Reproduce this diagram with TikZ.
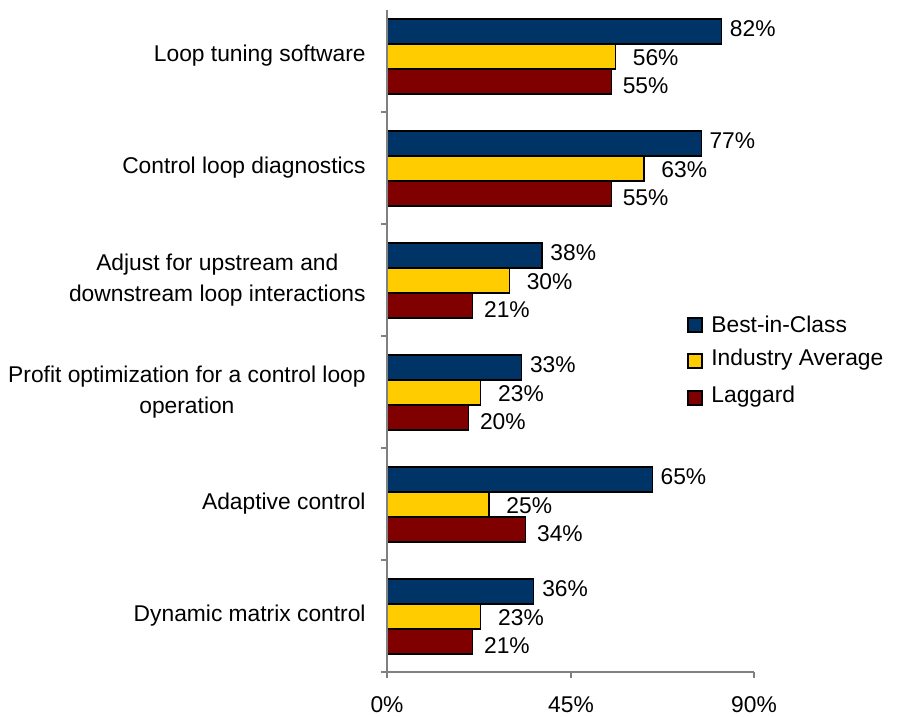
\documentclass[tikz,border=0pt]{standalone}
\usepackage{fontspec}
\setmainfont{Liberation Sans}
\usepackage{tikz}
\usetikzlibrary{calc}
\usepackage{xcolor}
\definecolor{bic-blue}{RGB}{0,51,102}
\definecolor{avg-yellow}{RGB}{255,204,0}
\definecolor{lag-red}{RGB}{128,0,0}
\definecolor{axis-gray}{RGB}{128,128,128}
\tikzstyle{bicbar}=[fill=bic-blue, draw=black, line width=0.6pt]
\tikzstyle{avgbar}=[fill=avg-yellow, draw=black, line width=0.6pt]
\tikzstyle{lagbar}=[fill=lag-red, draw=black, line width=0.6pt]
\tikzstyle{axisline}=[draw=axis-gray, line width=0.6pt]
\tikzstyle{vallabel}=[anchor=west, inner sep=0pt]
\tikzstyle{catlabel}=[anchor=east, align=center, inner sep=0pt]
% one category: row, top of the row, three values, label
\newcommand{\threeBars}[6]{
	\draw[bicbar] (387,#2+19) rectangle ({387+4.08*#3},#2+44);
	\draw[avgbar] (387,#2+44) rectangle ({387+4.08*#4},#2+69);
	\draw[lagbar] (387,#2+69) rectangle ({387+4.08*#5},#2+94);
	\node[vallabel] (b#1) at ({395+4.08*#3},#2+29) {#3\%};
	\node[vallabel] (i#1) at ({404+4.08*#4},#2+57.5) {#4\%};
	\node[vallabel] (l#1) at ({398+4.08*#5},#2+86) {#5\%};
	\node[catlabel] (cat#1) at (366,#2+56) {#6};
}

\begin{document}
\begin{tikzpicture}[x=0.5bp, y=-0.5bp, font=\fontsize{11.4bp}{15.5bp}\selectfont]
	\useasboundingbox (0,0) rectangle (906,717);
	\threeBars{1}{0}{82}{56}{55}{Loop tuning software};
	\threeBars{2}{112}{77}{63}{55}{Control loop diagnostics};
	\threeBars{3}{224}{38}{30}{21}{Adjust for upstream and\\downstream loop interactions};
	\threeBars{4}{336}{33}{23}{20}{Profit optimization for a control loop\\operation};
	\threeBars{5}{448}{65}{25}{34}{Adaptive control};
	\threeBars{6}{560}{36}{23}{21}{Dynamic matrix control};
	% axes
	\draw[axisline] (387,10) -- (387,672) -- (754,672);
	\foreach \k in {1,...,6}
		\draw[axisline] (381,112*\k) -- (387,112*\k);
	\foreach \x/\t in {387/0, 571/45, 754/90}{
		\draw[axisline] (\x,672) -- (\x,678);
		\node (x\t) at (\x,705) {\t\%};
	}
	% legend
	\draw[bicbar] (688,318) rectangle (702,332);
	\draw[avgbar] (688,354) rectangle (702,368);
	\draw[lagbar] (688,391) rectangle (702,405);
	\node[vallabel] (legb) at (711,324) {Best-in-Class};
	\node[vallabel] (legi) at (711,360) {Industry Average};
	\node[vallabel] (legl) at (711,397) {Laggard};
\end{tikzpicture}
\end{document}
